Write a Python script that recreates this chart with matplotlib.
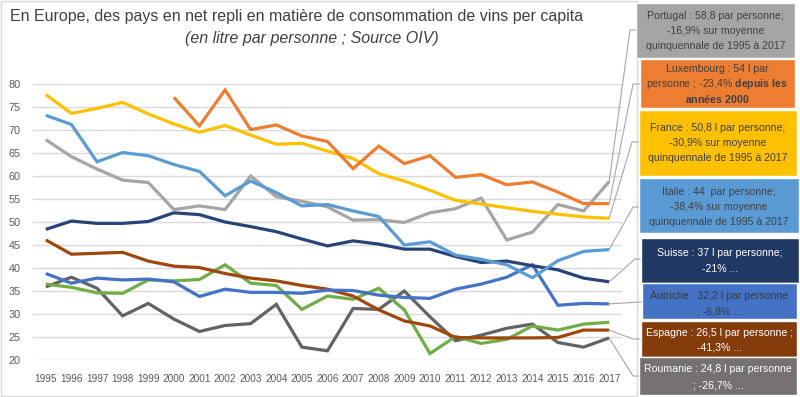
import matplotlib
matplotlib.use("Agg")
import matplotlib.pyplot as plt
from matplotlib import font_manager
from matplotlib.patches import Rectangle
from matplotlib.lines import Line2D

installed = {f.name for f in font_manager.fontManager.ttflist}
FONT = next(f for f in ["Liberation Sans Narrow", "Liberation Sans", "DejaVu Sans"] if f in installed)
plt.rcParams['font.family'] = [FONT, 'DejaVu Sans']
plt.rcParams['mathtext.fontset'] = 'custom'
plt.rcParams['mathtext.rm'] = FONT
plt.rcParams['mathtext.bf'] = FONT + ':bold'

years = list(range(1995, 2018))

portugal = [67.9, 64.2, 61.5, 59.1, 58.6, 52.7, 53.5, 52.7, 60.0, 55.5, 54.5, 53.3,
            50.4, 50.5, 49.9, 52.0, 52.9, 55.2, 46.1, 47.8, 53.8, 52.4, 58.8]
luxembourg = [None] * 5 + [77.1, 70.9, 78.7, 70.1, 71.1, 68.7, 67.5,
                           61.6, 66.5, 62.7, 64.4, 59.7, 60.3, 58.1, 58.7, 56.5, 54.0, 54.0]
france = [77.7, 73.6, 74.7, 76.0, 73.5, 71.3, 69.5, 71.0, 68.9, 66.9, 67.1, 65.4,
          63.8, 60.5, 58.9, 56.9, 54.7, 53.9, 53.1, 52.3, 51.7, 51.1, 50.8]
italie = [73.2, 71.2, 63.1, 65.1, 64.4, 62.5, 61.0, 55.7, 58.9, 56.4, 53.5, 53.8,
          52.4, 51.2, 45.0, 45.7, 42.8, 41.9, 40.7, 37.9, 41.6, 43.6, 44.0]
suisse = [48.4, 50.2, 49.7, 49.7, 50.1, 52.0, 51.6, 50.0, 49.0, 47.9, 46.3, 44.8,
          45.9, 45.2, 44.1, 44.1, 42.5, 41.2, 41.5, 40.5, 39.6, 37.8, 37.0]
autriche = [38.8, 36.7, 37.8, 37.4, 37.6, 37.0, 33.8, 35.4, 34.7, 34.7, 34.5, 35.2,
            35.1, 34.1, 33.6, 33.4, 35.4, 36.5, 38.0, 40.7, 31.9, 32.3, 32.2]
espagne = [46.1, 43.0, 43.2, 43.4, 41.5, 40.4, 40.1, 38.8, 37.8, 37.2, 36.2, 35.4,
           33.9, 30.9, 28.5, 27.4, 24.9, 24.8, 24.8, 24.8, 24.9, 26.5, 26.5]
grece = [36.5, 35.8, 34.6, 34.5, 37.4, 37.2, 37.5, 40.7, 36.7, 36.2, 31.0, 33.9,
         33.2, 35.6, 30.9, 21.4, 25.1, 23.6, 24.5, 27.4, 26.5, 27.8, 28.2]
roumanie = [35.9, 38.0, 35.6, 29.6, 32.3, 28.9, 26.2, 27.5, 27.9, 32.1, 22.8, 22.0,
            31.2, 31.0, 35.0, 29.4, 24.2, 25.4, 26.9, 27.8, 23.8, 22.8, 24.8]

series = [
    ("Roumanie", roumanie, "#636363"),
    ("Grèce", grece, "#70AD47"),
    ("Espagne", espagne, "#9E480E"),
    ("Autriche", autriche, "#4472C4"),
    ("Suisse", suisse, "#264478"),
    ("Portugal", portugal, "#A5A5A5"),
    ("Italie", italie, "#5B9BD5"),
    ("France", france, "#FFC000"),
    ("Luxembourg", luxembourg, "#ED7D31"),
]

W, H = 800, 397
fig = plt.figure(figsize=(W / 100, H / 100), dpi=100)


def fx(px):
    return px / W


def fy(py):
    return 1 - py / H


# chart frame
fig.patches.append(Rectangle((fx(1), fy(396)), fx(636), 395 / H, transform=fig.transFigure,
                             fill=False, edgecolor="#D9D9D9", lw=1))

ax = fig.add_axes([fx(33), fy(360), fx(622 - 33), (360 - 84) / H])
x = list(range(len(years)))
for name, vals, col in series:
    xs = [i for i, v in zip(x, vals) if v is not None]
    ys = [v for v in vals if v is not None]
    ax.plot(xs, ys, color=col, lw=2.3, solid_joinstyle="miter", solid_capstyle="butt")

ax.set_xlim(-0.5, len(years) - 0.5)
ax.set_ylim(20, 80)
ax.set_yticks(range(20, 81, 5))
ax.set_xticks(x)
ax.set_xticklabels([str(y) for y in years])
ax.grid(axis="y", color="#D9D9D9", lw=1)
ax.set_axisbelow(True)
for s in ax.spines.values():
    s.set_visible(False)
ax.tick_params(length=0, colors="#595959")
ax.tick_params(axis="y", pad=9, labelsize=7.8)
ax.tick_params(axis="x", pad=10, labelsize=7.2)

fig.text(fx(10), fy(16), "En Europe, des pays en net repli en matière de consommation de vins per capita",
         fontsize=11.5, color="#404040", ha="left", va="center")
fig.text(fx(312), fy(38), "(en litre par personne ; Source OIV)", fontsize=11.5, color="#404040",
         ha="center", va="center", style="italic")

# annotation boxes: (series, box x0, y0, x1, y1, colour, text colour, lines, line y, elbow)
boxes = [
    (portugal, 636, 3, 795, 58, "#A5A5A5", "#404040",
     ["Portugal : 58,8 par personne;", "-16,9% sur moyenne", "quinquennale de 1995 à 2017"], [16, 31, 46], (630, 30)),
    (luxembourg, 640, 59, 795, 108, "#ED7D31", "#404040",
     ["Luxembourg : 54 l par", "personne ; -23,4% $\\mathbf{depuis\\ les}$", "$\\mathbf{années\\ 2000}$"], [69, 84, 99], (633, 84)),
    (france, 639, 110, 797, 176, "#FFC000", "#404040",
     ["France : 50,8 l par personne;", "-30,9% sur moyenne", "quinquennale de 1995 à 2017"], [128, 143, 158], (632, 142)),
    (italie, 639, 178, 799, 233, "#5B9BD5", "#404040",
     ["Italie : 44  par personne;", "-38,4% sur moyenne", "quinquennale de 1995 à 2017"], [192, 207, 222], (633, 207)),
    (suisse, 641, 238, 799, 283, "#203864", "white",
     ["Suisse : 37 l par personne;", "-21% ..."], [253, 269], (635, 259)),
    (autriche, 642, 283, 797, 319, "#4472C4", "#3A3A3A",
     ["Autriche : 32,2 l par personne", "; -6,8% ..."], [296, 312], (640, 302)),
    (espagne, 641, 321, 797, 357, "#843C0C", "white",
     ["Espagne : 26,5 l par personne ;", "-41,3% ..."], [333, 348], (633, 339)),
    (roumanie, 639, 357, 797, 395, "#767171", "white",
     ["Roumanie : 24,8 l par personne", "; -26,7% ..."], [369, 385], (633, 376)),
]

fig.canvas.draw()
inv = fig.transFigure.inverted()
for vals, x0, y0, x1, y1, col, tcol, lines, ly, elbow in boxes:
    sx, sy = inv.transform(ax.transData.transform((len(years) - 1, vals[-1])))
    ex, ey = elbow
    fig.lines.append(Line2D([sx, fx(ex), fx(x0)], [sy, fy(ey), fy(ey)], transform=fig.transFigure,
                            color="#A6A6A6", lw=0.8))
    fig.patches.append(Rectangle((fx(x0), fy(y1)), fx(x1 - x0), (y1 - y0) / H, transform=fig.transFigure,
                                 facecolor=col, edgecolor="white", lw=1, zorder=3))
    cx = fx((x0 + x1) / 2)
    for t, yy in zip(lines, ly):
        fig.text(cx, fy(yy), t, color=tcol, fontsize=7.6, ha="center", va="center", zorder=4)

fig.savefig("out.png", dpi=100)
